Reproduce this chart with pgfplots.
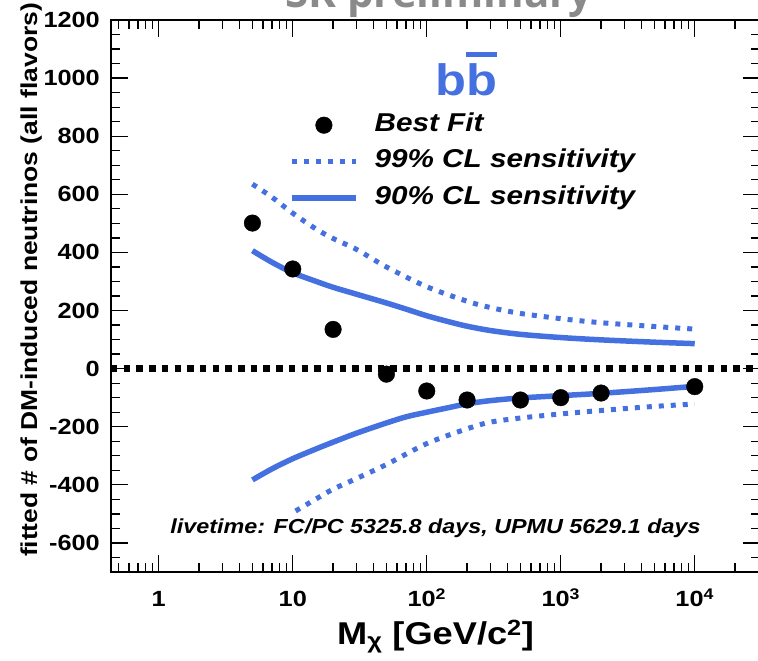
\documentclass[border=0pt]{standalone}
\usepackage{fontspec}
\setmainfont[FakeStretch=1.15]{Liberation Sans}
\newfontfamily\titlefont{Open Sans}
\usepackage{pgfplots}
\pgfplotsset{compat=1.18}
\definecolor{clblue}{HTML}{4470E0}
\definecolor{prelim}{HTML}{8A8A8A}

\pgfplotsset{
  legend image code/.code={\draw[mark repeat=2,mark phase=2,#1] plot coordinates {(0pt,0pt) (32pt,0pt) (64pt,0pt)};}
}

\begin{document}
\begin{tikzpicture}[x=1pt,y=1pt]
\begin{axis}[
  at={(111pt,89pt)}, anchor=south west,
  scale only axis, width=649pt, height=552pt,
  xmode=log, xmin=0.44, xmax=30700, ymin=-700, ymax=1200,
  axis line style={line width=1.6pt},
  tick style={black, line width=1.3pt},
  major tick length=17pt, minor tick length=9pt,
  xtick={1,10,100,1000,10000},
  xticklabels={1,10,10\textsuperscript{2},10\textsuperscript{3},10\textsuperscript{4}},
  minor xtick={0.5,0.6,0.7,0.8,0.9,2,3,4,5,6,7,8,9,20,30,40,50,60,70,80,90,200,300,400,500,600,700,800,900,2000,3000,4000,5000,6000,7000,8000,9000,20000,30000},
  ytick={-600,-400,-200,0,200,400,600,800,1000,1200},
  yticklabels={-600,-400,-200,0,200,400,600,800,1000,1200},
  minor ytick={-700,-650,...,1200},
  ticklabel style={font=\bfseries\fontsize{22}{26}\selectfont, inner sep=0pt},
  xticklabel style={anchor=base, yshift=-35pt},
  yticklabel style={anchor=east, xshift=-11pt},
  xlabel={M\textsubscript{χ} [GeV/c\textsuperscript{2}]},
  xlabel style={font=\bfseries\fontsize{31.5}{36}\selectfont, at={(axis description cs:0.5,-0.1322)}, anchor=base, inner sep=0pt},
  ylabel={fitted \# of DM-induced neutrinos (all flavors)},
  ylabel style={font=\bfseries\fontsize{23}{27}\selectfont, at={(axis description cs:-0.123,0.529)}, anchor=center, inner sep=0pt},
  legend cell align=left,
  legend style={at={(0.2742,0.8315)}, anchor=north west, draw=none, fill=none, inner sep=0pt,
    font=\bfseries\itshape\fontsize{25.8}{30}\selectfont, row sep=12.5pt,
    nodes={inner sep=0pt, text height=18pt, text depth=6pt},
    /tikz/every odd column/.append style={column sep=16pt}},
]
% zero line
\addplot[forget plot, black, line width=6.5pt, dash pattern=on 6.5pt off 6.2pt] coordinates {(0.44,0) (30700,0)};

% 99% CL sensitivity (dotted), upper and lower
\addplot[forget plot, clblue, line width=5pt, dash pattern=on 5pt off 7pt, smooth] coordinates {
(5,635)(7,590)(10,535)(15,480)(20,448)(30,410)(50,350)(100,282)(200,232)(300,210)(500,190)(1000,172)(2000,158)(5000,145)(10000,136)};
\addplot[forget plot, clblue, line width=5pt, dash pattern=on 5pt off 7pt, smooth] coordinates {
(10.5,-490)(15,-448)(20,-415)(30,-378)(50,-330)(100,-258)(200,-207)(300,-184)(500,-170)(1000,-156)(2000,-144)(5000,-130)(10000,-122)};

% 90% CL sensitivity (solid), upper and lower
\addplot[forget plot, clblue, line width=5.5pt, smooth] coordinates {
(5,406)(7,366)(10,330)(15,300)(20,280)(30,256)(50,226)(70,205)(100,182)(150,160)(200,146)(300,131)(500,118)(1000,107)(2000,99)(5000,91)(10000,86)};
\addplot[forget plot, clblue, line width=5.5pt, smooth] coordinates {
(5,-383)(7,-345)(10,-310)(15,-276)(20,-253)(30,-222)(50,-187)(70,-166)(100,-150)(150,-133)(200,-121)(300,-110)(500,-101)(1000,-93)(2000,-85)(5000,-72)(10000,-61)};

% best fit
\addplot[forget plot, only marks, mark=*, mark size=8.3pt, black] coordinates {
(5,501)(10,343)(20,135)(50,-19)(100,-77)(200,-108)(500,-108)(1000,-100)(2000,-84)(10000,-62)};

\addlegendimage{only marks, mark=*, mark size=8.3pt, black}
\addlegendentry{Best Fit}
\addlegendimage{clblue, line width=5pt, dash pattern=on 5pt off 7pt}
\addlegendentry{99\% CL sensitivity}
\addlegendimage{clblue, line width=5.5pt}
\addlegendentry{90\% CL sensitivity}

\node[anchor=base, text=clblue, font=\bfseries\fontsize{44}{50}\selectfont, inner sep=0pt]
  at (rel axis cs:0.547,0.864) {b\makebox[0pt][l]{\raisebox{38pt}{\rule{31pt}{5.5pt}}}b};
\node[anchor=center, font=\bfseries\itshape\fontsize{20.3}{24}\selectfont, inner sep=0pt]
  at (rel axis cs:0.5,0.08) {livetime: FC/PC 5325.8 days, UPMU 5629.1 days};
\end{axis}
\node[anchor=base, text=prelim, font=\titlefont\bfseries\fontsize{42}{48}\selectfont, inner sep=0pt] at (439,653) {SK preliminary};
\pgfresetboundingbox
\useasboundingbox (0,0) rectangle (758,661);
\end{tikzpicture}
\end{document}
